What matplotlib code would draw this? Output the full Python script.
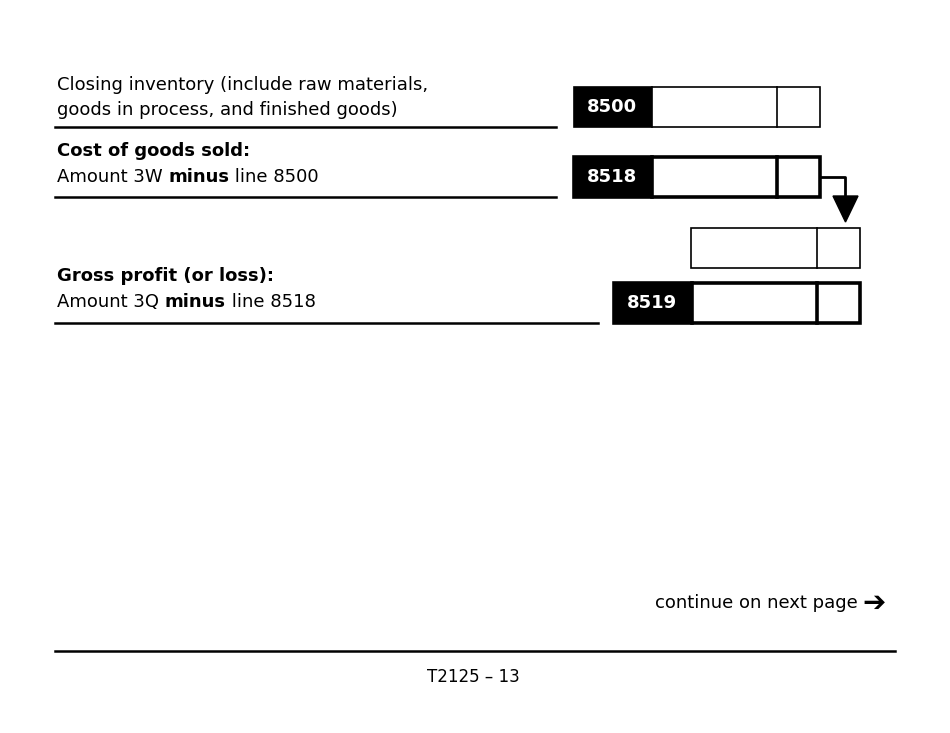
import matplotlib
matplotlib.use("Agg")
import matplotlib.pyplot as plt
from matplotlib.patches import Rectangle, Polygon

plt.rcParams['font.family'] = ['DejaVu Sans']

# form content
line_codes = ['8500', '8518', '8519']
box_left = [574, 574, 614]
box_top = [87, 157, 283]
box_thick = [False, True, True]
rule_y = [127, 197, 323]
rule_right = [556, 556, 598]
labels = [
    [[('Closing inventory (include raw materials,', 'normal')],
     [('goods in process, and finished goods)', 'normal')]],
    [[('Cost of goods sold:', 'bold')],
     [('Amount 3W ', 'normal'), ('minus', 'bold'), (' line 8500', 'normal')]],
    [[('Gross profit (or loss):', 'bold')],
     [('Amount 3Q ', 'normal'), ('minus', 'bold'), (' line 8518', 'normal')]],
]
label_y = [[85, 110], [151, 177], [276, 302]]

fig = plt.figure(figsize=(9.5, 7.33), dpi=100)
ax = fig.add_axes([0, 0, 1, 1])
ax.set_xlim(0, 950)
ax.set_ylim(733, 0)
ax.axis('off')
fig.canvas.draw()
renderer = fig.canvas.get_renderer()


def rich_text(x, y, parts, size=13):
    for s, w in parts:
        t = ax.text(x, y, s, fontsize=size, fontweight=w, va='center', ha='left')
        bb = t.get_window_extent(renderer)
        x += bb.width  # pixels == data units here


def entry_box(x, y, code, thick):
    lw = 2.6 if thick else 1.2
    ax.add_patch(Rectangle((x, y), 78, 40, facecolor='black', edgecolor='black', lw=lw))
    ax.text(x + 13, y + 20, code, color='white', fontsize=13, fontweight='bold', va='center')
    ax.add_patch(Rectangle((x + 78, y), 168, 40, facecolor='white', edgecolor='black', lw=lw))
    ax.plot([x + 203, x + 203], [y, y + 40], color='black', lw=lw)


for i in range(3):
    for lines, yy in zip(labels[i], label_y[i]):
        rich_text(57, yy, lines)
    ax.plot([55, rule_right[i]], [rule_y[i], rule_y[i]], color='black', lw=1.8)
    entry_box(box_left[i], box_top[i], line_codes[i], box_thick[i])

# unlabeled box between 8518 and 8519
ax.add_patch(Rectangle((691, 228), 169, 40, facecolor='white', edgecolor='black', lw=1.2))
ax.plot([817, 817], [228, 268], color='black', lw=1.2)

# connector arrow
ax.plot([820, 845, 845], [177, 177, 200], color='black', lw=2)
ax.add_patch(Polygon([[833, 196], [858, 196], [845.5, 222]], closed=True, color='black'))

# footer
ax.text(858, 603, 'continue on next page', fontsize=13, ha='right', va='center')
ax.text(862, 603, '\u2794', fontsize=20, fontweight='bold', ha='left', va='center')
ax.plot([55, 895], [651, 651], color='black', lw=1.8)
ax.text(473, 677, 'T2125 \u2013 13', fontsize=12, ha='center', va='center')

fig.savefig('out.png', dpi=100)
